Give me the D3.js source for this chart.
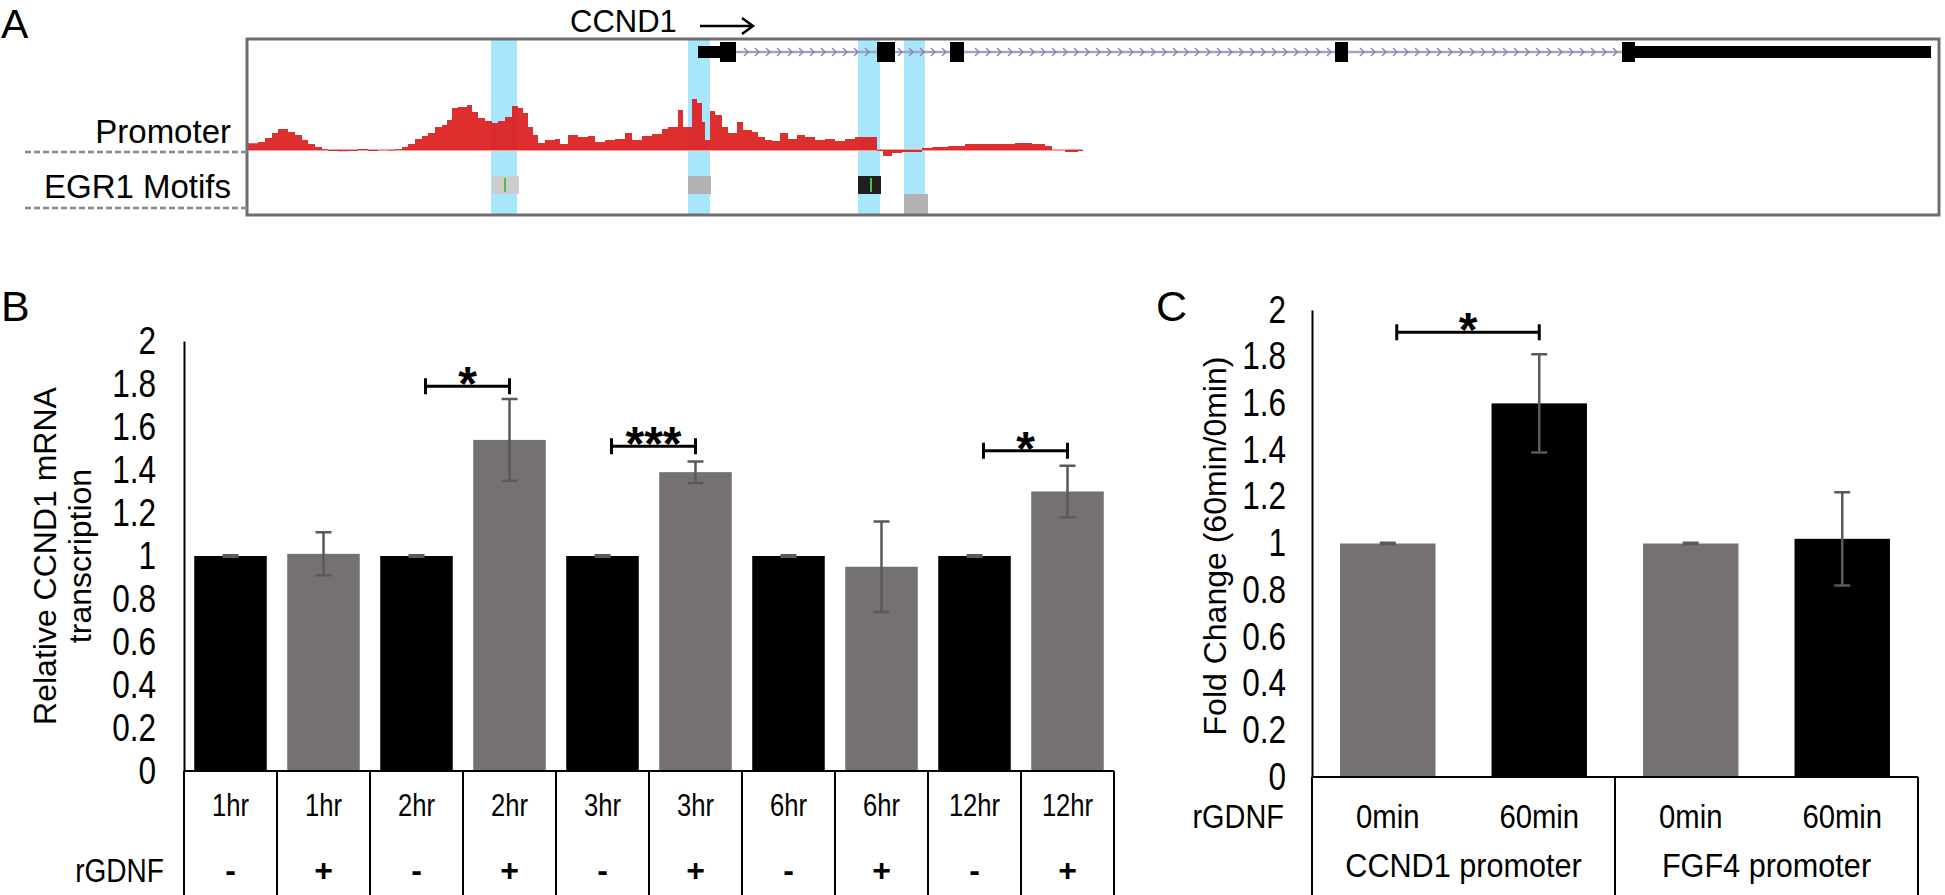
<!DOCTYPE html>
<html><head><meta charset="utf-8">
<script src="https://cdn.jsdelivr.net/npm/d3@7"></script>
<style>
html,body{margin:0;padding:0;background:#fff;}
svg{display:block;}
text{font-family:"Liberation Sans",Arial,sans-serif;fill:#000;}
</style></head><body>
<svg id="fig" width="1945" height="895"></svg>
<script>
// ================= DATA =================
// Panel A: genome browser view (positions in ~11 bp bins from region start)
const regionBins = [0, 1692];
const signalPos = [1,11,18,25,31,36,41,48,55,61,68,75,81,91,101,111,121,131,141,148,155,161,168,175,181,188,195,200,205,211,220,225,231,238,245,251,258,265,271,276,281,286,291,298,308,313,321,331,341,348,358,368,378,385,395,405,415,421,425,431,436,445,450,455,458,463,468,475,481,490,496,505,511,518,525,533,541,550,558,568,578,588,598,608,618,626,630,636,645,655,665,675,685,701,718,735,751,768,785,798,805,818,831,836];
const signalVal = [6.7,8,12,17,21,21,18,15,10,6,3,0.7,-1,-1.3,-1,1,-1,0,-0.5,0.7,3,6,11,14,17,23,25,30,42,43,45,38,32,29,27,29,33,44,42,37,23,15,7,10,11,6,15,13,14,8,10,11,17,10,14,16,21,23,23,40,23,51,47,28,10,39,35,23,17,28,20,18,13,10,9,17,11,15,13,10,11,9,11,13,13,13,-1,-6,-3,-2,-2,2,3,4,6,6,6,7,6,4,0,-2,-1,-3];
const highlightStart = [244, 441, 611, 657];
const highlightEnd   = [270, 463, 633, 678];
const motifStart = [245, 441, 611, 657];
const motifEnd   = [272, 464, 634, 681];
const motifRow   = [0, 0, 0, 1];
const motifScore = [0.12, 0.25, 0.95, 0.25];
const motifCore  = [258, null, 624, null];
const geneStart = 451, geneEnd = 1684;
const exonStart = [451, 473, 630, 703, 1088, 1375, 1388];
const exonEnd   = [473, 489, 648, 717, 1101, 1388, 1684];
const exonCoding = [false, true, true, true, true, true, false];
const trackLabels = ["Promoter", "EGR1 Motifs"];
const geneName = "CCND1";

// Panel B
const bTimes = ["1hr","1hr","2hr","2hr","3hr","3hr","6hr","6hr","12hr","12hr"];
const bTreat = ["-","+","-","+","-","+","-","+","-","+"];
const bValues = [1, 1.01, 1, 1.54, 1, 1.39, 1, 0.95, 1, 1.30];
const bErrors = [0.004, 0.10, 0.004, 0.19, 0.004, 0.05, 0.004, 0.21, 0.004, 0.12];
const bSigFrom = [2, 4, 8];
const bSigTo   = [3, 5, 9];
const bSigY    = [1.79, 1.51, 1.49];
const bSigLabel = ["*", "***", "*"];
const bTitle = ["Relative CCND1 mRNA", "transcription"];

// Panel C
const cTimes = ["0min","60min","0min","60min"];
const cGroups = ["CCND1 promoter","FGF4 promoter"];
const cValues = [1.0, 1.60, 1.0, 1.02];
const cErrors = [0.003, 0.21, 0.003, 0.20];
const cSigFrom = [0], cSigTo = [1], cSigY = [1.905], cSigLabel = ["*"];
const cTitle = "Fold Change (60min/0min)";

// Shared axis ticks
const yTicks = [0,0.2,0.4,0.6,0.8,1,1.2,1.4,1.6,1.8,2];
const yTickLabels = ["0","0.2","0.4","0.6","0.8","1","1.2","1.4","1.6","1.8","2"];

// ================= DRAW =================
const svg = d3.select("#fig");
svg.append("rect").attr("width",1945).attr("height",895).attr("fill","#fff");
const BLACK = "#000", GRAY = "#767171", ERR = "#5a5a5a";

// condensed look for the narrow labels
function condense(sel, f){
  sel.each(function(){
    const L = this.getComputedTextLength();
    d3.select(this).attr("textLength", L*f).attr("lengthAdjust","spacingAndGlyphs");
  });
}

// ---------- Panel A ----------
const A = svg.append("g");
const gx = d3.scaleLinear().domain(regionBins).range([247, 1939]);
const sy = d3.scaleLinear().domain([0, 51]).range([150, 99]);
const boxTop = 39, boxBottom = 215;

A.append("text").text("A").attr("x",1).attr("y",38).attr("font-size",41);

// highlight bands
A.selectAll("rect.hl").data(highlightStart).join("rect").attr("class","hl")
  .attr("x",(d)=>gx(d)).attr("width",(d,i)=>gx(highlightEnd[i])-gx(d))
  .attr("y",boxTop).attr("height",boxBottom-boxTop).attr("fill","#a8e7fb");

// gene model
const geneY = 52;
A.append("line").attr("x1",gx(geneStart)).attr("x2",gx(geneEnd)).attr("y1",geneY).attr("y2",geneY)
  .attr("stroke","#a4a4bc").attr("stroke-width",2.5);
const chev = d3.range(geneStart+4, geneEnd, 11).filter(p => !exonStart.some((s,i)=> p>=s-3 && p<=exonEnd[i]+3));
A.selectAll("path.chev").data(chev).join("path").attr("class","chev")
  .attr("d",d=>`M${gx(d)-2},${geneY-4}L${gx(d)+2},${geneY}L${gx(d)-2},${geneY+4}`)
  .attr("fill","none").attr("stroke","#7c7cb4").attr("stroke-width",1.2);
A.selectAll("rect.exon").data(exonStart).join("rect").attr("class","exon")
  .attr("x",d=>gx(d)).attr("width",(d,i)=>gx(exonEnd[i])-gx(d))
  .attr("y",(d,i)=>exonCoding[i]?geneY-10:geneY-6)
  .attr("height",(d,i)=>exonCoding[i]?20:12).attr("fill","#000");

// gene name + arrow
A.append("text").text(geneName).attr("x",570).attr("y",32).attr("font-size",31);
A.append("path").attr("d","M700,26L753,26M742,18L753,26L742,34").attr("fill","none")
  .attr("stroke","#000").attr("stroke-width",2.5);

// signal track
A.append("line").attr("x1",gx(signalPos[0])).attr("x2",gx(signalPos[signalPos.length-1]))
  .attr("y1",sy(0)).attr("y2",sy(0)).attr("stroke","#f2a0a0").attr("stroke-width",2);
const area = d3.area().x((d,i)=>gx(signalPos[i])).y0(sy(0)).y1(d=>sy(d)).curve(d3.curveStepAfter);
A.append("path").datum(signalVal).attr("d",area).attr("fill","#dc1c1c").attr("fill-opacity",0.92);

// motifs
const shade = d3.scaleLinear().domain([0,1]).range(["#e6e6e6","#141414"]);
const rowY = [176, 194], rowH = 18;
A.selectAll("rect.motif").data(motifStart).join("rect").attr("class","motif")
  .attr("x",d=>gx(d)).attr("width",(d,i)=>gx(motifEnd[i])-gx(d))
  .attr("y",(d,i)=>rowY[motifRow[i]]).attr("height",(d,i)=>motifRow[i]?boxBottom-rowY[1]:rowH)
  .attr("fill",(d,i)=>shade(motifScore[i]));
A.selectAll("line.core").data(motifCore.filter(d=>d!==null)).join("line").attr("class","core")
  .attr("x1",d=>gx(d)).attr("x2",d=>gx(d)).attr("y1",rowY[0]+2).attr("y2",rowY[0]+rowH-2)
  .attr("stroke","#4cc04c").attr("stroke-width",2);

// box
A.append("rect").attr("x",247).attr("y",boxTop).attr("width",1692).attr("height",boxBottom-boxTop)
  .attr("fill","none").attr("stroke","#6e6e6e").attr("stroke-width",3);

// track labels + dashed guides
const labBase = [143, 198], dashY = [152, 208];
trackLabels.forEach((t,i)=>{
  A.append("text").text(t).attr("x",231).attr("y",labBase[i]).attr("text-anchor","end").attr("font-size",33);
  A.append("line").attr("x1",25).attr("x2",247).attr("y1",dashY[i]).attr("y2",dashY[i])
    .attr("stroke","#888").attr("stroke-width",2.5).attr("stroke-dasharray","6,3");
});

// ---------- Bar chart helper ----------
function barPanel(opt){
  const g = svg.append("g");
  const idx = d3.range(opt.values.length);
  const x = d3.scaleBand().domain(idx).range(opt.xr).paddingInner(opt.pi).paddingOuter(opt.pi/2);
  const y = d3.scaleLinear().domain([0,2]).range(opt.yr);
  g.selectAll("rect.bar").data(opt.values).join("rect").attr("class","bar")
    .attr("x",(d,i)=>x(i)).attr("width",x.bandwidth())
    .attr("y",d=>y(d)).attr("height",d=>y(0)-y(d)).attr("fill",(d,i)=>opt.color(i));
  const cap = 8;
  idx.forEach(i=>{
    const cx = x(i)+x.bandwidth()/2, v=opt.values[i], e=opt.errors[i];
    g.append("path").attr("d",`M${cx},${y(v+e)}L${cx},${y(v-e)}M${cx-cap},${y(v+e)}L${cx+cap},${y(v+e)}M${cx-cap},${y(v-e)}L${cx+cap},${y(v-e)}`)
      .attr("stroke",ERR).attr("stroke-width",2.5).attr("fill","none");
  });
  const ax = d3.axisLeft(y).tickValues(yTicks).tickFormat((d,i)=>yTickLabels[i]).tickSize(0).tickSizeOuter(0).tickPadding(opt.tp);
  const ag = g.append("g").attr("transform",`translate(${opt.xr[0]},0)`).call(ax);
  ag.select(".domain").attr("stroke","#000").attr("stroke-width",2);
  ag.selectAll("text").attr("font-size",opt.tickFs).attr("fill","#000").call(condense, 0.83);
  const y0 = y(0);
  g.append("line").attr("x1",opt.xr[0]).attr("x2",opt.xr[1]).attr("y1",y0).attr("y2",y0).attr("stroke","#000").attr("stroke-width",2);
  opt.sepIdx.forEach(k=>{
    const xx = k>=idx.length ? opt.xr[1] : x(k) - x.step()*x.paddingInner()/2;
    g.append("line").attr("x1",xx).attr("x2",xx).attr("y1",y0).attr("y2",895).attr("stroke","#000").attr("stroke-width",2);
  });
  opt.sigFrom.forEach((f,k)=>{
    const x1 = x(f)+x.bandwidth()/2+9, x2 = x(opt.sigTo[k])+x.bandwidth()/2, yy = y(opt.sigY[k]);
    g.append("path").attr("d",`M${x1},${yy}L${x2},${yy}M${x1},${yy-8}L${x1},${yy+8}M${x2},${yy-8}L${x2},${yy+8}`)
      .attr("stroke","#000").attr("stroke-width",3).attr("fill","none");
    g.append("text").text(opt.sigLabel[k]).attr("x",(x1+x2)/2).attr("y",yy+14)
      .attr("text-anchor","middle").attr("font-size",48).attr("font-weight","bold");
  });
  return {g,x,y};
}

// ---------- Panel B ----------
const B = barPanel({values:bValues, errors:bErrors, xr:[184,1114], yr:[771,341], pi:0.22, tp:28, tickFs:38,
  color:i=>bTreat[i]==="-"?BLACK:GRAY, sepIdx:d3.range(11),
  sigFrom:bSigFrom, sigTo:bSigTo, sigY:bSigY, sigLabel:bSigLabel});
svg.append("text").text("B").attr("x",1).attr("y",321).attr("font-size",43);
B.g.selectAll("text.time").data(bTimes).join("text").attr("class","time")
  .attr("x",(d,i)=>B.x(i)+B.x.bandwidth()/2).attr("y",805).attr("dy","0.35em")
  .attr("text-anchor","middle").attr("font-size",32).text(d=>d).call(condense,0.8);
B.g.selectAll("text.treat").data(bTreat).join("text").attr("class","treat")
  .attr("x",(d,i)=>B.x(i)+B.x.bandwidth()/2).attr("y",870).attr("dy","0.35em")
  .attr("text-anchor","middle").attr("font-size",32).attr("font-weight","bold").text(d=>d);
B.g.append("text").text("rGDNF").attr("x",164).attr("y",870).attr("dy","0.35em")
  .attr("text-anchor","end").attr("font-size",33).call(condense,0.85);
bTitle.forEach((t,i)=>{
  B.g.append("text").text(t).attr("transform",`translate(${[56,91][i]},556) rotate(-90)`)
    .attr("text-anchor","middle").attr("font-size",32);
});

// ---------- Panel C ----------
const C = barPanel({values:cValues, errors:cErrors, xr:[1312,1918], yr:[777,310], pi:0.37, tp:26, tickFs:38,
  color:i=>cTimes[i]==="0min"?GRAY:BLACK, sepIdx:[0,2,4],
  sigFrom:cSigFrom, sigTo:cSigTo, sigY:cSigY, sigLabel:cSigLabel});
svg.append("text").text("C").attr("x",1156).attr("y",321).attr("font-size",43);
C.g.selectAll("text.time").data(cTimes).join("text").attr("class","time")
  .attr("x",(d,i)=>C.x(i)+C.x.bandwidth()/2).attr("y",816).attr("dy","0.35em")
  .attr("text-anchor","middle").attr("font-size",34).text(d=>d).call(condense,0.86);
C.g.selectAll("text.grp").data(cGroups).join("text").attr("class","grp")
  .attr("x",(d,i)=>(C.x(2*i)+C.x(2*i+1)+C.x.bandwidth())/2).attr("y",865).attr("dy","0.35em")
  .attr("text-anchor","middle").attr("font-size",34).text(d=>d).call(condense,0.9);
C.g.append("text").text("rGDNF").attr("x",1284).attr("y",816).attr("dy","0.35em")
  .attr("text-anchor","end").attr("font-size",34).call(condense,0.85);
C.g.append("text").text(cTitle).attr("transform",`translate(1226,546) rotate(-90)`)
  .attr("text-anchor","middle").attr("font-size",32);
</script>
</body></html>
